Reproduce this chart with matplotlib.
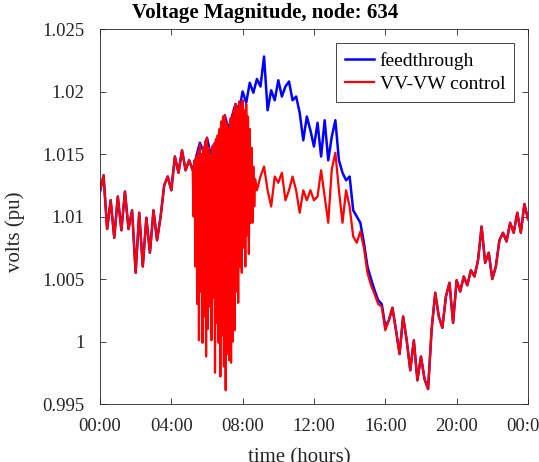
import matplotlib.pyplot as plt
import numpy as np

# time axis in hours, values in pu
t_am = np.linspace(0, 5.0, 26)
volts_am = [1.0120, 1.0133, 1.0090, 1.0113, 1.0083, 1.0116, 1.0089, 1.0120, 1.0090, 1.0105,
            1.0055, 1.0103, 1.0060, 1.0099, 1.0071, 1.0105, 1.0081, 1.0100, 1.0125, 1.0132,
            1.0121, 1.0148, 1.0135, 1.0153, 1.0137, 1.0145]

t_mid = np.linspace(5.2, 16.2, 56)
feed_mid = [1.0137, 1.0148, 1.0159, 1.0152, 1.0163, 1.0150, 1.0158, 1.0161, 1.0172, 1.0181,
            1.0170, 1.0180, 1.0190, 1.0185, 1.0200, 1.0191, 1.0207, 1.0199, 1.0210, 1.0204,
            1.0228, 1.0185, 1.0201, 1.0193, 1.0209, 1.0196, 1.0204, 1.0208, 1.0193, 1.0196,
            1.0183, 1.0161, 1.0180, 1.0169, 1.0156, 1.0175, 1.0148, 1.0177, 1.0145, 1.0164,
            1.0177, 1.0145, 1.0135, 1.0129, 1.0132, 1.0105, 1.0100, 1.0095, 1.0079, 1.0060,
            1.0050, 1.0041, 1.0033, 1.0030, 1.0012, 1.0017]

# control run: fast oscillation in the morning
t_osc = np.linspace(5.2, 8.7, 71)
ctrl_osc = [1.0137, 1.0100, 1.0145, 1.0060, 1.0148, 1.0030, 1.0152, 1.0001, 1.0158, 1.0040,
            1.0150, 0.9999, 1.0155, 1.0020, 1.0160, 0.9988, 1.0163, 1.0010, 1.0155, 1.0028,
            1.0150, 1.0001, 1.0156, 1.0035, 1.0158, 0.9975, 1.0162, 1.0015, 1.0165, 0.9999,
            1.0170, 0.9972, 1.0176, 1.0005, 1.0180, 0.9980, 1.0181, 0.9961, 1.0175, 0.9990,
            1.0170, 0.9985, 1.0178, 0.9983, 1.0180, 1.0000, 1.0185, 1.0009, 1.0190, 1.0040,
            1.0186, 1.0031, 1.0192, 1.0060, 1.0188, 1.0055, 1.0193, 1.0075, 1.0185, 1.0060,
            1.0190, 1.0085, 1.0180, 1.0070, 1.0170, 1.0095, 1.0155, 1.0095, 1.0140, 1.0108,
            1.0130]

t_day = np.linspace(8.8, 16.2, 38)
ctrl_day = [1.0121, 1.0132, 1.0140, 1.0121, 1.0108, 1.0132, 1.0127, 1.0135, 1.0113, 1.0121,
            1.0132, 1.0121, 1.0103, 1.0121, 1.0113, 1.0121, 1.0113, 1.0116, 1.0137, 1.0116,
            1.0095, 1.0138, 1.0151, 1.0121, 1.0095, 1.0121, 1.0108, 1.0084, 1.0079, 1.0088,
            1.0075, 1.0055, 1.0045, 1.0038, 1.0030, 1.0028, 1.0009, 1.0017]

t_pm = np.linspace(16.4, 24.0, 39)
volts_pm = [1.0027, 1.0009, 0.9990, 1.0020, 1.0001, 0.9977, 1.0001, 0.9969, 0.9988, 0.9970,
            0.9962, 1.0010, 1.0039, 1.0020, 1.0011, 1.0036, 1.0047, 1.0015, 1.0049,
            1.0040, 1.0052, 1.0045, 1.0057, 1.0052, 1.0065, 1.0092, 1.0063, 1.0071, 1.0050,
            1.0060, 1.0081, 1.0087, 1.0080, 1.0095, 1.0087, 1.0103, 1.0087, 1.0110, 1.0098]

x_ticks = [0, 4, 8, 12, 16, 20, 24]
x_labels = ['00:00', '04:00', '08:00', '12:00', '16:00', '20:00', '00:00']
y_ticks = [0.995, 1.0, 1.005, 1.01, 1.015, 1.02, 1.025]
y_labels = ['0.995', '1', '1.005', '1.01', '1.015', '1.02', '1.025']

t_feed = np.concatenate([t_am, t_mid, t_pm])
v_feed = np.concatenate([volts_am, feed_mid, volts_pm])
t_ctrl = np.concatenate([t_am, t_osc, t_day, t_pm])
v_ctrl = np.concatenate([volts_am, ctrl_osc, ctrl_day, volts_pm])

plt.rcParams['font.family'] = ['Liberation Serif', 'DejaVu Serif']
plt.rcParams['font.size'] = 13.5

fig = plt.figure(figsize=(5.39, 4.62), dpi=100)
ax = fig.add_axes([0.1855, 0.1255, 0.794, 0.8117])

ax.plot(t_feed, v_feed, color='#0000ff', lw=1.8, label='feedthrough')
ax.plot(t_ctrl, v_ctrl, color='#ff0000', lw=1.6, label='VV-VW control')

ax.set_xlim(0, 24)
ax.set_ylim(0.995, 1.025)
ax.set_xticks(x_ticks)
ax.set_xticklabels(x_labels)
ax.set_yticks(y_ticks)
ax.set_yticklabels(y_labels)
ax.tick_params(direction='in', top=True, right=True, length=4, width=0.6,
               colors='#262626', labelcolor='#262626', labelsize=13.5)
ax.tick_params(axis='x', pad=10)
ax.tick_params(axis='y', pad=11)
for s in ax.spines.values():
    s.set_color('#262626')
    s.set_linewidth(0.6)

ax.set_xlabel('time (hours)', fontsize=15, color='#262626')
ax.xaxis.set_label_coords(0.465, -0.118)
ax.set_ylabel('volts (pu)', fontsize=15, color='#262626')
ax.yaxis.set_label_coords(-0.175, 0.459)
fig.text(0.4917, 0.972, 'Voltage Magnitude, node: 634', fontsize=15,
         fontweight='bold', ha='center', va='center')

leg = ax.legend(loc='upper right', bbox_to_anchor=(0.967, 0.963), borderaxespad=0,
                fancybox=False, framealpha=1, edgecolor='#262626', fontsize=14,
                handlelength=1.5, handletextpad=0.3, borderpad=0.45, labelspacing=0.3)
leg.get_frame().set_linewidth(0.6)

fig.savefig('out.png', dpi=100)
